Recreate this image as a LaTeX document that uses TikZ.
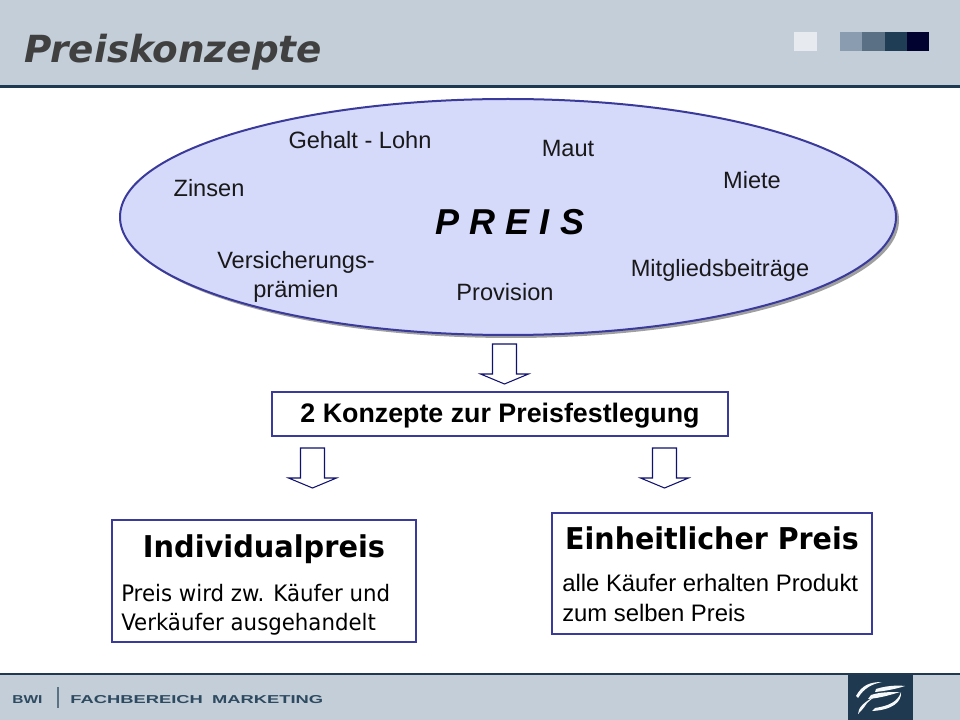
\documentclass[tikz,border=0pt]{standalone}
\usepackage{fontspec}
\setmainfont{Liberation Sans}
\newfontfamily\titlefont{DejaVu Sans}
\definecolor{band}{HTML}{C3CED8}
\definecolor{rulec}{HTML}{1F3A50}
\definecolor{frame}{HTML}{3A3A9A}
\definecolor{fillc}{HTML}{D5D9FA}
\definecolor{navy}{HTML}{10106E}
\definecolor{footc}{HTML}{2E4A60}
\definecolor{sqa}{HTML}{8A9DB0}
\definecolor{sqb}{HTML}{5A7085}
\definecolor{sqc}{HTML}{1F3D55}
\definecolor{sqd}{HTML}{020230}
\tikzset{
  x=0.75pt,y=-0.75pt,
  label/.style={inner sep=0pt,font=\fontsize{17.7}{20}\selectfont,align=center,text=black!90},
  boxed/.style={draw=frame,line width=1.5pt,fill=white,inner sep=0pt},
  downarrow/.style={draw=navy,line width=0.8pt,fill=white,line join=miter},
  ttl/.style={inner sep=0pt,anchor=base west},
  stroke/.style={fill=white!85!band,draw=none}
}
\newcommand{\downarr}[2]{\draw[downarrow] (#1-12,#2) -- (#1+12,#2) -- (#1+12,#2+30) -- (#1+24,#2+30) -- (#1,#2+40) -- (#1-24,#2+30) -- (#1-12,#2+30) -- cycle;}
\begin{document}
\begin{tikzpicture}
\useasboundingbox (0,0) rectangle (960,720);
% bands
\fill[band] (0,0) rectangle (960,87);
\fill[rulec] (0,85.5) rectangle (960,88);
\fill[band] (0,674) rectangle (960,720);
\fill[rulec] (0,673) rectangle (960,675);
\node[ttl,font=\titlefont\bfseries\itshape\fontsize{28}{30}\selectfont,text=black!75] (title) at (24,63) {Preiskonzepte};
% squares
\fill[white!60!band] (794,32) rectangle (817,51);
\fill[sqa] (840,32) rectangle (862,51);
\fill[sqb] (862,32) rectangle (885,51);
\fill[sqc] (885,32) rectangle (907,51);
\fill[sqd] (907,32) rectangle (929,51);
% footer
\node[ttl,font=\fontsize{8.6}{10}\selectfont\bfseries,text=footc,xscale=1.35] (bwi) at (12,703) {BWI};
\fill[footc!70!band] (56.5,687) rectangle (58.5,708);
\node[ttl,font=\fontsize{8.6}{10}\selectfont\bfseries,text=footc,xscale=1.6] (fach) at (70,703) {FACHBEREICH\hspace{0.5em}MARKETING};
% logo
\fill[rulec] (848,675) rectangle (913,720);
\fill[stroke] (856,696) .. controls (862,685) and (870,682) .. (882,682) .. controls (872,684) and (864,688) .. (858,698) -- cycle;
\fill[stroke] (876,689) .. controls (885,686) and (896,685) .. (905,686) .. controls (896,689) and (885,691) .. (875,692) -- cycle;
\fill[stroke] (871,695) .. controls (880,692) and (890,692) .. (900,692) .. controls (890,695) and (880,698) .. (868,699) -- cycle;
\fill[stroke] (867,703) .. controls (864,708) and (860,712) .. (858,714) .. controls (858,708) and (864,702) .. (874,697) -- cycle;
\fill[stroke] (875,708) .. controls (888,706) and (898,702) .. (901,692) .. controls (902,702) and (892,710) .. (872,711) -- cycle;
% ellipse
\fill[gray!75] (511,220) ellipse [x radius=388,y radius=118];
\draw[draw=frame,line width=1.5pt,fill=fillc] (508,217) ellipse [x radius=388,y radius=118];
\node[label] (zinsen) at (209,188.5) {Zinsen};
\node[label] (gehalt) at (360,140) {Gehalt - Lohn};
\node[label] (maut) at (568,148) {Maut};
\node[label] (miete) at (752,180) {Miete};
\node[inner sep=0pt,font=\bfseries\itshape\fontsize{27}{30}\selectfont] (preis) at (510,222) {P R E I S};
\node[label,font=\fontsize{17.7}{21.8}\selectfont] (vers) at (296,277) {Versicherungs-\\prämien};
\node[label] (prov) at (505,292) {Provision};
\node[label] (mitg) at (720,270) {Mitgliedsbeiträge};
% arrows
\downarr{504.5}{344}
\downarr{312.5}{448}
\downarr{664.5}{448}
% concept box
\node[boxed,minimum width=342pt,minimum height=33pt] (konz) at (500,414) {};
\node[inner sep=0pt,font=\bfseries\fontsize{20.1}{22}\selectfont] (konzt) at (500,416) {2 Konzepte zur Preisfestlegung};
% left box
\node[boxed,minimum width=228pt,minimum height=91.5pt] (ind) at (264,581) {};
\node[inner sep=0pt,anchor=base,font=\titlefont\bfseries\fontsize{22.5}{26}\selectfont,xscale=0.96] (indt) at (264,557) {Individualpreis};
\node[ttl,font=\titlefont\fontsize{17}{20}\selectfont,xscale=0.94] (ind1) at (121,601) {Preis wird zw. Käufer und};
\node[ttl,font=\titlefont\fontsize{17}{20}\selectfont,xscale=0.94] (ind2) at (121,630) {Verkäufer ausgehandelt};
% right box
\node[boxed,minimum width=240pt,minimum height=90.75pt] (ein) at (712,573) {};
\node[inner sep=0pt,anchor=base,font=\titlefont\bfseries\fontsize{22.5}{26}\selectfont,xscale=0.95] (eint) at (712,549) {Einheitlicher Preis};
\node[ttl,font=\fontsize{17.9}{20}\selectfont] (ein1) at (562,591) {alle Käufer erhalten Produkt};
\node[ttl,font=\fontsize{17.9}{20}\selectfont] (ein2) at (562,621) {zum selben Preis};
\end{tikzpicture}
\end{document}
